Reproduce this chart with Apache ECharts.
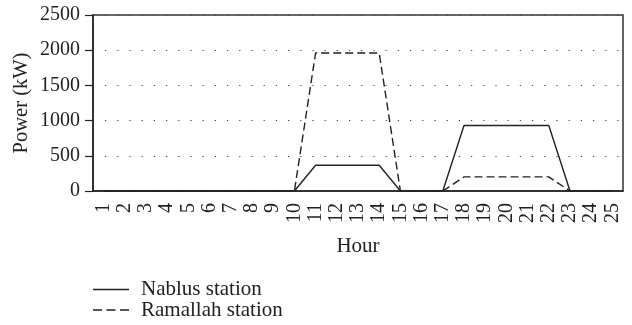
<!DOCTYPE html>
<html>
<head>
<meta charset="utf-8">
<script src="https://cdn.jsdelivr.net/npm/echarts@6/dist/echarts.min.js"></script>
<style>html,body{margin:0;padding:0;background:#fff;}#c{width:632px;height:325px;}</style>
</head>
<body>
<div id="c"></div>
<script>
const hours = ['1','2','3','4','5','6','7','8','9','10','11','12','13','14','15','16','17','18','19','20','21','22','23','24','25'];
const nablus = [0,0,0,0,0,0,0,0,0,0,365,365,365,365,0,0,0,930,930,930,930,930,0,0,0];
const ramallah = [0,0,0,0,0,0,0,0,0,0,1960,1960,1960,1960,0,0,0,200,200,200,200,200,0,0,0];
const yTicks = [0,500,1000,1500,2000,2500];
const seriesNames = ['Nablus station','Ramallah station'];

const FONT = '"Liberation Serif", "DejaVu Serif", serif';
const INK = '#222';
const SOLID_ICON = 'path://M0,0H36V1.4H0Z';
const DASH_ICON = 'path://M0,0H9V1.4H0Z M13.5,0H22.5V1.4H13.5Z M27,0H36V1.4H27Z';
function legendAt(name, icon, top){
  return {
    orient:'vertical',left:93,top:top,padding:0,itemWidth:36,itemHeight:1.4,
    textStyle:{fontFamily:FONT,fontSize:21,color:INK,padding:[0,0,0,7]},
    data:[{name:name,icon:icon}]
  };
}
const chart = echarts.init(document.getElementById('c'), null, {renderer:'canvas'});
chart.setOption({
  animation:false,
  backgroundColor:'#fff',
  textStyle:{fontFamily:FONT},
  grid:{left:93,right:9,top:15,bottom:134,outerBoundsMode:'none',containLabel:false,
        show:true,borderColor:'#333',borderWidth:1.5,backgroundColor:'transparent'},
  legend:[legendAt(seriesNames[0],SOLID_ICON,279),legendAt(seriesNames[1],DASH_ICON,299.5)],
  xAxis:{
    type:'category',data:hours,boundaryGap:true,
    name:'Hour',nameLocation:'middle',nameGap:45,
    nameTextStyle:{fontFamily:FONT,fontSize:21,color:INK},
    axisLine:{lineStyle:{color:'#222',width:1.5}},
    axisTick:{alignWithLabel:true,length:7,lineStyle:{color:'#222',width:1.2}},
    axisLabel:{rotate:90,margin:12,fontFamily:FONT,fontSize:20,color:INK,interval:0},
    splitLine:{show:false}
  },
  yAxis:{
    type:'value',min:0,max:2500,interval:500,
    name:'Power (kW)',nameLocation:'middle',nameGap:61,nameRotate:90,nameMoveOverlap:false,
    nameTextStyle:{fontFamily:FONT,fontSize:20.5,color:INK},
    axisLine:{show:true,lineStyle:{color:'#222',width:1.5}},
    axisTick:{show:true,length:8,lineStyle:{color:'#222',width:1.2}},
    axisLabel:{margin:13,fontFamily:FONT,fontSize:20,color:INK,
      formatter:function(v){return yTicks.indexOf(v)>=0?String(v):'';}},
    splitLine:{show:true,lineStyle:{color:'#444',width:1.2,type:[1.2,11],dashOffset:-12}}
  },
  series:[
    {name:seriesNames[0],type:'line',data:nablus,symbol:'none',
     lineStyle:{color:INK,width:1.4,type:'solid'},itemStyle:{color:INK}},
    {name:seriesNames[1],type:'line',data:ramallah,symbol:'none',
     lineStyle:{color:INK,width:1.4,type:[8,4]},itemStyle:{color:INK}}
  ]
});
</script>
</body>
</html>
